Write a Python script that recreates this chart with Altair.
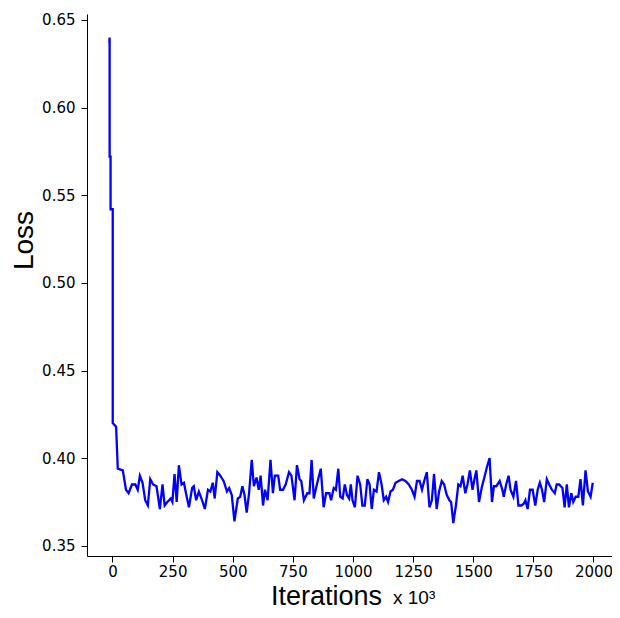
import altair as alt
import pandas as pd

iterations = [
    -13, -12, -12, -8, -8, 1, 1, 15, 22, 43, 56, 67, 81, 95, 105, 114, 125, 136, 147, 157,
    169, 183, 197, 208, 217, 228, 242, 249, 258, 267, 276, 287, 297, 307, 318, 331, 338, 348, 359, 370,
    384, 397, 407, 417, 425, 436, 448, 462, 476, 485, 496, 507, 521, 531, 540, 549, 558, 568, 579, 588,
    599, 608, 616, 626, 634, 645, 657, 667, 675, 689, 697, 709, 720, 734, 744, 757, 767, 778, 785, 796,
    810, 819, 828, 837, 848, 866, 878, 888, 902, 909, 920, 929, 939, 947, 957, 966, 975, 984, 991, 998,
    1008, 1019, 1030, 1039, 1049, 1060, 1069, 1078, 1087, 1098, 1108, 1119, 1128, 1138, 1146, 1156, 1166, 1177, 1190, 1204,
    1218, 1232, 1245, 1256, 1266, 1277, 1287, 1296, 1307, 1318, 1328, 1337, 1348, 1358, 1369, 1379, 1390, 1401, 1408, 1417,
    1428, 1438, 1447, 1456, 1467, 1476, 1486, 1497, 1505, 1513, 1524, 1535, 1548, 1557, 1568, 1578, 1586, 1596, 1610, 1621,
    1627, 1637, 1647, 1655, 1667, 1678, 1688, 1700, 1710, 1717, 1726, 1736, 1747, 1758, 1768, 1777, 1786, 1795, 1806, 1816,
    1827, 1839, 1847, 1857, 1871, 1880, 1889, 1898, 1908, 1916, 1926, 1937, 1946, 1956, 1967, 1977, 1988, 1997,
]

loss = [
    0.637, 0.640, 0.572, 0.572, 0.542, 0.542, 0.420, 0.418, 0.394, 0.393, 0.382, 0.380, 0.385, 0.385, 0.382, 0.390, 0.386, 0.376, 0.373, 0.388,
    0.385, 0.384, 0.371, 0.385, 0.373, 0.375, 0.377, 0.375, 0.391, 0.375, 0.396, 0.385, 0.386, 0.379, 0.372, 0.383, 0.384, 0.376, 0.381, 0.377,
    0.371, 0.382, 0.381, 0.386, 0.377, 0.392, 0.390, 0.387, 0.381, 0.383, 0.379, 0.364, 0.377, 0.378, 0.384, 0.379, 0.369, 0.380, 0.399, 0.384,
    0.389, 0.382, 0.390, 0.373, 0.382, 0.376, 0.399, 0.380, 0.390, 0.390, 0.382, 0.382, 0.385, 0.392, 0.390, 0.376, 0.396, 0.388, 0.387, 0.376,
    0.380, 0.380, 0.399, 0.377, 0.384, 0.394, 0.372, 0.380, 0.380, 0.376, 0.383, 0.382, 0.394, 0.378, 0.377, 0.385, 0.379, 0.377, 0.385, 0.376,
    0.372, 0.390, 0.385, 0.373, 0.373, 0.388, 0.385, 0.371, 0.382, 0.381, 0.392, 0.385, 0.376, 0.378, 0.375, 0.381, 0.382, 0.386, 0.387, 0.388,
    0.387, 0.385, 0.382, 0.378, 0.387, 0.387, 0.382, 0.387, 0.392, 0.372, 0.376, 0.391, 0.371, 0.381, 0.387, 0.385, 0.379, 0.376, 0.375, 0.363,
    0.373, 0.385, 0.384, 0.390, 0.380, 0.385, 0.393, 0.382, 0.388, 0.393, 0.375, 0.383, 0.390, 0.395, 0.400, 0.375, 0.384, 0.384, 0.387, 0.382,
    0.378, 0.385, 0.390, 0.382, 0.378, 0.387, 0.373, 0.373, 0.374, 0.376, 0.371, 0.382, 0.382, 0.373, 0.382, 0.386, 0.382, 0.375, 0.388, 0.385,
    0.382, 0.380, 0.385, 0.385, 0.383, 0.372, 0.385, 0.372, 0.380, 0.375, 0.378, 0.378, 0.388, 0.373, 0.393, 0.381, 0.378, 0.386,
]

x_ticks = [0, 250, 500, 750, 1000, 1250, 1500, 1750, 2000]
y_ticks = [0.35, 0.40, 0.45, 0.50, 0.55, 0.60, 0.65]

df = pd.DataFrame({"iter": iterations, "loss": loss})
df["step"] = range(len(df))

line = alt.Chart(df).mark_line(color="#0000ff", strokeWidth=2.3).encode(
    x=alt.X(
        "iter:Q",
        scale=alt.Scale(domain=[-106, 2077], nice=False, zero=False),
        axis=alt.Axis(
            values=x_ticks,
            format="d",
            title="Iterations",
            titleFontSize=27,
            titleFont="Liberation Sans",
            titleFontWeight="normal",
            titleColor="#000000",
            titleX=239,
            titleY=48,
            titleAlign="center",
            titleBaseline="alphabetic",
            labelPadding=2,
        ),
    ),
    y=alt.Y(
        "loss:Q",
        scale=alt.Scale(domain=[0.3442, 0.6534], nice=False, zero=False),
        axis=alt.Axis(
            values=y_ticks,
            format=".2f",
            title="Loss",
            titleFontSize=28,
            titleFont="Liberation Sans",
            titleFontWeight="normal",
            titleColor="#000000",
            titleAngle=270,
            titleX=-55,
            titleY=226,
            titleAlign="center",
            titleBaseline="alphabetic",
            labelPadding=6,
        ),
    ),
    order="step:Q",
)

note = alt.Chart(pd.DataFrame({"t": ["x 10³"]})).mark_text(
    font="Liberation Sans", fontSize=19, align="left", baseline="alphabetic", color="#000000"
).encode(text="t:N", x=alt.value(306), y=alt.value(590))

chart = (
    alt.layer(line, note)
    .properties(
        width=525,
        height=542,
        autosize=alt.AutoSizeParams(type="none"),
        padding={"left": 79, "top": 6, "right": 0, "bottom": 54},
        background="white",
    )
    .configure_view(stroke=None)
    .configure_axis(
        grid=False,
        domainColor="#000000",
        domainWidth=1,
        tickColor="#000000",
        tickSize=6,
        labelColor="#000000",
        labelFont="DejaVu Sans",
        labelFontSize=15,
    )
)

chart.save("out.html", embed_options={"renderer": "svg", "actions": False})
